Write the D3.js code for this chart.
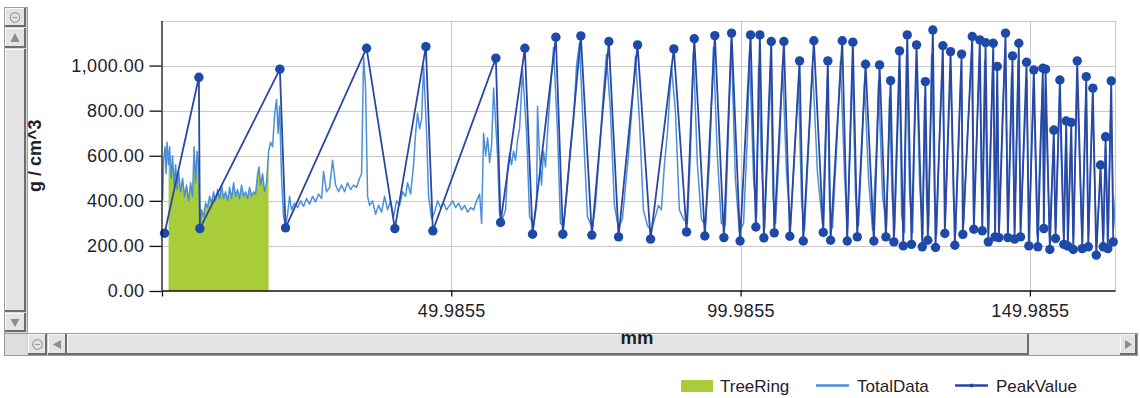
<!DOCTYPE html>
<html>
<head>
<meta charset="utf-8">
<script src="https://cdn.jsdelivr.net/npm/d3@7"></script>
<style>
  body { margin: 0; background: #fff; }
  svg { display: block; font-family: "Liberation Sans", Arial, sans-serif; }
</style>
</head>
<body>
<div id="chart"></div>
<script>
// ---- data ----
const yTicks = [0, 200, 400, 600, 800, 1000];
const xTicks = [-0.0145, 49.9855, 99.9855, 149.9855];
const xDomain = [-0.0145, 164.7];
const yDomain = [0, 1200];
const seriesNames = ['TreeRing', 'TotalData', 'PeakValue'];
const treeRingRange = [0.95, 18.41]; // mm span of the ring area

// TotalData: [mm, g/cm^3]
const totalData = [
  [0.09,400],[0.26,580],[0.52,640],[0.69,520],[0.86,660],[1.12,560],[1.30,640],[1.56,500],[1.81,600],[2.07,470],
  [2.33,560],[2.59,450],[2.85,530],[3.20,440],[3.54,500],[3.89,420],[4.23,470],[4.58,400],[4.93,480],[5.27,420],
  [5.53,640],[5.79,480],[6.05,620],[6.31,560],[6.57,290],[6.83,360],[7.17,330],[7.52,390],[7.86,370],[8.21,420],
  [8.56,390],[8.90,440],[9.25,400],[9.59,450],[9.94,410],[10.28,470],[10.63,410],[10.97,440],[11.32,400],[11.67,460],
  [12.01,410],[12.36,480],[12.70,420],[13.05,450],[13.39,410],[13.74,470],[14.09,420],[14.43,440],[14.78,410],[15.12,460],
  [15.47,420],[15.81,440],[16.16,430],[16.51,520],[16.76,550],[17.02,470],[17.37,520],[17.72,440],[18.06,480],[18.41,620],
  [18.75,660],[19.10,640],[19.44,780],[19.79,850],[20.05,700],[20.31,820],[20.65,500],[20.99,330],[21.34,290],[21.69,340],
  [22.04,420],[22.38,360],[22.90,390],[23.42,370],[23.94,400],[24.46,375],[24.97,410],[25.49,385],[26.01,420],[26.53,395],
  [27.05,430],[27.57,410],[27.91,530],[28.43,440],[28.95,460],[29.47,580],[29.99,470],[30.51,440],[31.02,470],[31.54,440],
  [32.06,480],[32.58,450],[33.10,470],[33.62,460],[34.14,500],[34.48,520],[34.83,1040],[35.17,900],[35.52,420],[35.86,380],
  [36.38,400],[36.90,340],[37.42,380],[37.94,350],[38.46,420],[38.98,360],[39.49,400],[40.01,330],[40.53,400],[41.05,380],
  [41.57,440],[42.09,420],[42.43,480],[42.95,430],[43.47,560],[43.82,700],[44.16,790],[44.51,720],[44.85,760],[45.20,1000],
  [45.72,700],[46.06,420],[46.58,320],[47.10,350],[47.62,400],[48.14,370],[48.66,390],[49.17,360],[49.69,380],[50.21,400],
  [50.73,370],[51.25,390],[51.77,360],[52.29,380],[52.81,350],[53.33,370],[53.85,360],[54.36,400],[54.88,430],[55.23,300],
  [55.57,700],[55.92,600],[56.26,680],[56.61,570],[56.96,650],[57.30,900],[57.99,600],[58.33,340],[58.85,320],[59.37,360],
  [59.72,540],[60.06,610],[60.41,560],[60.75,620],[61.10,580],[61.44,670],[61.79,720],[62.31,980],[63.00,700],[63.52,330],
  [64.21,290],[64.72,380],[64.89,820],[65.24,600],[65.58,470],[65.93,620],[66.27,550],[66.62,700],[67.14,900],[67.66,1080],
  [68.35,700],[68.86,300],[69.38,290],[69.90,420],[70.59,640],[71.11,760],[71.63,1000],[72.14,1100],[72.83,700],[73.52,330],
  [74.38,280],[74.90,380],[75.42,560],[75.94,750],[76.28,880],[76.80,1050],[77.49,800],[78.18,380],[78.87,280],[79.56,320],
  [80.08,460],[80.60,600],[81.12,780],[81.81,1040],[82.50,760],[83.19,360],[83.88,290],[84.57,270],[85.26,330],[85.78,380],
  [86.30,360],[86.82,560],[87.34,700],[88.03,1000],[88.72,800],[89.41,360],[90.10,320],[90.79,300],[91.31,600],[91.83,1060],
  [92.52,560],[93.21,320],[93.90,290],[94.59,560],[95.28,1080],[95.97,600],[96.66,300],[97.35,290],[97.87,700],[98.39,1100],
  [99.08,500],[99.77,260],[100.50,300],[101.19,700],[101.53,1050],[102.23,500],[102.75,330],[103.09,1000],[103.61,560],[104.13,280],
  [104.65,600],[105.17,1000],[105.60,420],[106.03,300],[106.72,650],[107.24,1000],[107.93,520],[108.62,290],[109.31,600],[110.00,920],
  [110.52,400],[111.04,270],[111.73,640],[112.42,1000],[113.28,520],[114.14,300],[114.66,700],[115.01,950],[115.35,400],[115.87,280],
  [116.56,620],[117.25,1020],[117.94,520],[118.46,270],[118.98,700],[119.33,1000],[119.85,420],[120.37,290],[120.89,600],[121.41,920],
  [122.10,500],[122.79,270],[123.48,640],[123.83,930],[124.52,420],[125.21,290],[125.72,860],[126.17,420],[126.61,270],[127.13,700],
  [127.47,980],[127.82,340],[128.33,260],[128.68,1050],[129.20,430],[129.72,260],[130.06,700],[130.41,1000],[130.93,480],[131.45,250],
  [131.79,860],[132.14,400],[132.49,280],[133.00,1050],[133.52,400],[133.87,250],[134.39,700],[134.91,1000],[135.34,300],[135.78,620],
  [136.29,980],[136.81,400],[137.16,260],[137.68,650],[138.11,980],[138.54,300],[139.23,700],[139.92,1040],[140.27,320],[140.96,800],
  [141.30,1040],[141.74,320],[142.17,1020],[142.69,280],[143.21,700],[143.64,1020],[143.99,290],[144.34,920],[144.69,290],[145.26,800],
  [145.70,1060],[146.21,290],[146.82,960],[147.34,280],[147.95,1020],[148.39,290],[149.08,700],[149.43,940],[149.86,260],[150.29,620],
  [150.64,900],[151.25,250],[151.85,700],[152.20,920],[152.43,320],[152.69,900],[153.38,240],[154.07,650],[154.42,280],[155.11,860],
  [155.80,260],[156.23,700],[156.58,250],[157.10,690],[157.53,240],[158.13,940],[159.00,240],[159.69,880],[160.13,250],[160.82,830],
  [161.51,210],[162.20,520],[162.72,250],[163.07,640],[163.50,240],[164.02,860],[164.46,280],[164.79,420]
];

// PeakValue: [mm, g/cm^3]
const peakValue = [
  [0.43,256],[6.36,948],[6.53,277],[20.36,984],[21.34,280],[35.34,1077],[40.23,277],[45.59,1084],[46.80,267],[57.69,1033],
  [58.50,304],[62.70,1077],[64.03,252],[68.06,1126],[69.27,252],[72.38,1132],[74.28,248],[77.22,1107],[78.90,240],[82.18,1092],
  [84.43,230],[88.45,1074],[90.65,262],[91.98,1119],[93.81,244],[95.54,1133],[97.10,237],[98.43,1144],[99.90,222],[101.71,1136],
  [102.63,284],[103.32,1136],[104.01,236],[105.29,1107],[105.81,258],[107.47,1107],[108.50,243],[110.18,1021],[110.82,222],[112.65,1110],
  [114.28,260],[115.07,1021],[115.54,225],[117.56,1110],[118.42,222],[119.39,1104],[120.15,240],[121.59,1006],[123.02,222],[124.01,1003],
  [125.10,240],[125.91,933],[126.48,218],[127.46,1065],[128.10,200],[128.79,1136],[129.53,207],[130.40,1092],[131.39,196],[131.92,929],
  [132.35,225],[133.22,1158],[133.68,193],[134.95,1088],[135.29,255],[136.28,1062],[137.02,203],[138.18,1051],[138.40,251],[140.03,1129],
  [140.30,274],[141.34,1114],[141.76,267],[142.33,1102],[142.80,218],[143.66,1099],[143.97,240],[144.35,996],[144.63,237],[145.78,1144],
  [146.18,237],[146.99,1043],[147.34,230],[148.08,1099],[148.37,240],[149.41,1015],[149.81,200],[150.67,981],[151.36,196],[152.23,988],
  [152.40,277],[152.70,984],[153.44,184],[154.13,714],[154.42,233],[155.17,936],[155.86,207],[156.27,754],[156.55,199],[157.14,748],
  [157.49,184],[158.17,1021],[159.04,188],[159.73,951],[160.08,196],[160.87,900],[161.46,159],[162.20,559],[162.67,196],[163.07,684],
  [163.46,188],[164.05,932],[164.40,218]
];

const treeRing = totalData.filter(d => d[0] >= treeRingRange[0] && d[0] <= treeRingRange[1]);

// ---- colours ----
const colors = { TreeRing: '#a9cc3a', TotalData: '#4b8fd8', PeakValue: '#2a48a3', dot: '#1d4aa8' };
const textColor = '#1e1e28';

// ---- layout ----
const W = 1140, H = 398;
const plot = { left: 162, right: 1115, top: 20.5, bottom: 291 };

const svg = d3.select('#chart').append('svg')
  .attr('width', W)
  .attr('height', H);

const x = d3.scaleLinear().domain(xDomain).range([plot.left, plot.right]);
const y = d3.scaleLinear().domain(yDomain).range([plot.bottom, plot.top]);

const crisp = v => Math.round(v) + 0.5;

// grid lines
const grid = svg.append('g').attr('stroke', '#c9c9c9').attr('stroke-width', 1);
grid.selectAll('.hg').data(yTicks.filter(d => d > 0).concat([yDomain[1]]))
  .join('line')
  .attr('x1', plot.left).attr('x2', plot.right)
  .attr('y1', d => crisp(y(d))).attr('y2', d => crisp(y(d)));
grid.selectAll('.vg').data(xTicks.slice(1).concat([xDomain[1]]))
  .join('line')
  .attr('x1', d => crisp(x(d))).attr('x2', d => crisp(x(d)))
  .attr('y1', plot.top).attr('y2', plot.bottom);

svg.append('clipPath').attr('id', 'clip')
  .append('rect')
  .attr('x', plot.left).attr('y', plot.top - 2)
  .attr('width', plot.right - plot.left).attr('height', plot.bottom - plot.top + 2);

const layer = svg.append('g').attr('clip-path', 'url(#clip)');

// TreeRing area
const area = d3.area()
  .x(d => x(d[0]))
  .y0(y(0))
  .y1(d => y(d[1]));
layer.append('path')
  .datum(treeRing)
  .attr('fill', colors.TreeRing)
  .attr('d', area);

// TotalData line
const line = d3.line()
  .x(d => x(d[0]))
  .y(d => y(d[1]));
layer.append('path')
  .datum(totalData)
  .attr('fill', 'none')
  .attr('stroke', colors.TotalData)
  .attr('stroke-width', 1.5)
  .attr('stroke-linejoin', 'round')
  .attr('d', line);

// PeakValue line + markers
layer.append('path')
  .datum(peakValue)
  .attr('fill', 'none')
  .attr('stroke', colors.PeakValue)
  .attr('stroke-width', 1.8)
  .attr('stroke-linejoin', 'round')
  .attr('d', line);
svg.append('g').selectAll('circle')
  .data(peakValue)
  .join('circle')
  .attr('cx', d => x(d[0]))
  .attr('cy', d => y(d[1]))
  .attr('r', 4.7)
  .attr('fill', colors.dot);

// axes
const yAxis = svg.append('g')
  .attr('transform', `translate(${crisp(plot.left) - 1},0)`)
  .call(d3.axisLeft(y).tickValues(yTicks).tickSize(12).tickSizeOuter(0).tickPadding(5)
    .tickFormat(d3.format(',.2f')));
const xAxis = svg.append('g')
  .attr('transform', `translate(0,${crisp(plot.bottom) - 1})`)
  .call(d3.axisBottom(x).tickValues(xTicks).tickSize(6).tickSizeOuter(0).tickPadding(8)
    .tickFormat(d => (d < 0 ? '' : d.toFixed(4))));

[yAxis, xAxis].forEach(a => {
  a.select('.domain').attr('stroke', '#111').attr('stroke-width', 1.3);
  a.selectAll('.tick line').attr('stroke', '#111').attr('stroke-width', 1.3);
  a.selectAll('.tick text')
    .attr('fill', textColor)
    .style('font-family', '"Liberation Sans", Arial, sans-serif')
    .style('font-size', '18px')
    .style('letter-spacing', '0.4px');
});

// ---- scroll bars (window chrome) ----
const chrome = svg.append('g');
function raised(g, bx, by, bw, bh, fill) {
  g.append('rect').attr('x', bx).attr('y', by).attr('width', bw).attr('height', bh)
    .attr('fill', fill || '#e3e3e3');
  g.append('path').attr('d', `M${bx + 0.5},${by + bh}V${by + 0.5}H${bx + bw}`)
    .attr('stroke', '#fbfbfb').attr('fill', 'none');
  g.append('path').attr('d', `M${bx},${by + bh - 1}H${bx + bw - 1}V${by}`)
    .attr('stroke', '#6e6e6e').attr('stroke-width', 2).attr('fill', 'none');
}
function circleIcon(g, cx, cy) {
  g.append('circle').attr('cx', cx).attr('cy', cy).attr('r', 4.8)
    .attr('fill', 'none').attr('stroke', '#9c9c9c').attr('stroke-width', 1.2);
  g.append('line').attr('x1', cx - 2.5).attr('x2', cx + 2.5).attr('y1', cy).attr('y2', cy)
    .attr('stroke', '#9c9c9c').attr('stroke-width', 1.2);
}
function tri(g, pts) {
  g.append('path').attr('d', 'M' + pts.map(p => p.join(',')).join('L') + 'Z').attr('fill', '#8c8c8c');
}

// vertical
chrome.append('rect').attr('x', 4.5).attr('y', 7.5).attr('width', 23).attr('height', 326)
  .attr('fill', '#d8d8d8').attr('stroke', '#9d9d9d');
raised(chrome, 5, 8, 21, 19);
circleIcon(chrome, 15, 17.5);
raised(chrome, 5, 28, 21, 20);
tri(chrome, [[15, 33], [10.5, 42], [19.5, 42]]);
raised(chrome, 5, 49, 21, 263);
raised(chrome, 5, 313, 21, 19);
tri(chrome, [[10.5, 319], [19.5, 319], [15, 327]]);

// horizontal
chrome.append('rect').attr('x', 4.5).attr('y', 333.5).attr('width', 1133).attr('height', 22)
  .attr('fill', '#d8d8d8').attr('stroke', '#9d9d9d');
chrome.append('rect').attr('x', 5).attr('y', 334).attr('width', 22).attr('height', 21).attr('fill', '#dedede');
raised(chrome, 28, 334, 19, 21);
circleIcon(chrome, 37.5, 344.5);
raised(chrome, 48, 334, 19, 21);
tri(chrome, [[53, 344.5], [61, 340], [61, 349]]);
raised(chrome, 67, 334, 962, 21);
chrome.append('rect').attr('x', 1029).attr('y', 334).attr('width', 91).attr('height', 21).attr('fill', '#e9e9e9');
raised(chrome, 1120, 334, 17, 21);
tri(chrome, [[1132, 344.5], [1125, 340], [1125, 349]]);

// axis titles
svg.append('text')
  .attr('transform', `translate(41,${(plot.top + plot.bottom) / 2}) rotate(-90)`)
  .attr('text-anchor', 'middle')
  .attr('fill', textColor)
  .style('font-size', '18px')
  .style('font-weight', 'bold')
  .text('g / cm^3');
svg.append('text')
  .attr('x', 637).attr('y', 343.5)
  .attr('text-anchor', 'middle')
  .attr('fill', textColor)
  .style('font-size', '18.5px')
  .style('font-weight', 'bold')
  .text('mm');

// legend
const legend = svg.append('g').style('font-size', '17px').attr('fill', textColor);
const legendX = [681, 816, 955];
seriesNames.forEach((name, i) => {
  const g = legend.append('g').attr('transform', `translate(${legendX[i]},0)`);
  if (name === 'TreeRing') {
    g.append('rect').attr('x', 0).attr('y', 380).attr('width', 32).attr('height', 12)
      .attr('fill', colors.TreeRing);
  } else {
    g.append('line').attr('x1', 0).attr('x2', 33).attr('y1', 385.5).attr('y2', 385.5)
      .attr('stroke', colors[name]).attr('stroke-width', 2.5);
    if (name === 'PeakValue') {
      g.append('circle').attr('cx', 16.5).attr('cy', 385.5).attr('r', 2).attr('fill', colors.dot);
    }
  }
  g.append('text').attr('x', name === 'TreeRing' ? 39 : 41).attr('y', 392).text(name);
});
</script>
</body>
</html>
